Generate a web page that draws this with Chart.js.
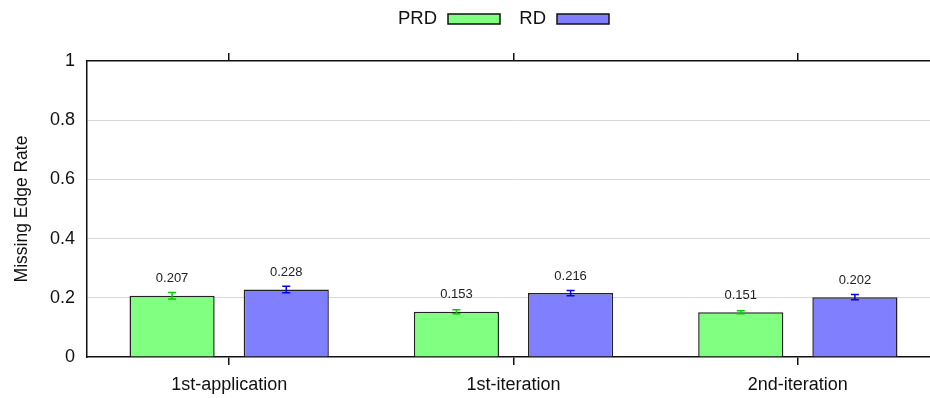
<!DOCTYPE html>
<html>
<head>
<meta charset="utf-8">
<script src="https://cdn.jsdelivr.net/npm/chart.js@4/dist/chart.umd.min.js"></script>
<style>
  html, body { margin: 0; padding: 0; background: #fff; overflow: hidden; }
  #wrap { width: 940px; height: 398px; position: relative; }
</style>
</head>
<body>
<div id="wrap"><canvas id="chart"></canvas></div>
<script>
// categories and series
const categories = ["1st-application", "1st-iteration", "2nd-iteration"];
const prd = [0.207, 0.153, 0.151];
const rd = [0.228, 0.216, 0.202];
const prdErr = [0.011, 0.007, 0.005];
const rdErr = [0.011, 0.009, 0.009];
const yTicks = [0, 0.2, 0.4, 0.6, 0.8, 1];

const FONT = "'Liberation Sans', Arial, Helvetica, sans-serif";

// error bars + value labels above each bar
const errorBars = {
    id: "errorBars",
    afterDatasetsDraw(chart) {
        const ctx = chart.ctx;
        const y = chart.scales.y;
        chart.data.datasets.forEach((ds, i) => {
            const meta = chart.getDatasetMeta(i);
            meta.data.forEach((bar, j) => {
                const v = ds.data[j];
                const e = ds.errors[j];
                const top = y.getPixelForValue(v + e);
                const bot = y.getPixelForValue(v - e);
                ctx.save();
                ctx.strokeStyle = ds.errorColor;
                ctx.lineWidth = 1.5;
                ctx.beginPath();
                ctx.moveTo(bar.x, top); ctx.lineTo(bar.x, bot);
                ctx.moveTo(bar.x - 4, top); ctx.lineTo(bar.x + 4, top);
                ctx.moveTo(bar.x - 4, bot); ctx.lineTo(bar.x + 4, bot);
                ctx.stroke();
                ctx.fillStyle = "#222";
                ctx.font = "13px " + FONT;
                ctx.textAlign = "center";
                ctx.textBaseline = "middle";
                ctx.fillText(v.toFixed(3), bar.x, y.getPixelForValue(v) - 17);
                ctx.restore();
            });
        });
    }
};

// gnuplot style key: label then sample box
const keyBox = {
    id: "keyBox",
    afterDraw(chart) {
        const ctx = chart.ctx;
        const items = [
            { text: "PRD", right: 437, box: 448, ds: chart.data.datasets[0] },
            { text: "RD", right: 546, box: 557, ds: chart.data.datasets[1] }
        ];
        ctx.save();
        ctx.font = "18.5px " + FONT;
        ctx.textBaseline = "middle";
        ctx.textAlign = "right";
        items.forEach(it => {
            ctx.fillStyle = "#111";
            ctx.fillText(it.text, it.right, 19);
            ctx.fillStyle = it.ds.backgroundColor;
            ctx.fillRect(it.box, 14, 52, 10);
            ctx.strokeStyle = "#111";
            ctx.lineWidth = 1.5;
            ctx.strokeRect(it.box, 14, 52, 10);
        });
        ctx.restore();
    }
};

new Chart(document.getElementById("chart"), {
    type: "bar",
    data: {
        labels: categories,
        datasets: [
            {
                label: "PRD",
                data: prd,
                errors: prdErr,
                errorColor: "#00cc00",
                backgroundColor: "#80ff80",
                borderColor: "#222",
                borderWidth: 1.5,
                categoryPercentage: 0.803,
                barPercentage: 0.746
            },
            {
                label: "RD",
                data: rd,
                errors: rdErr,
                errorColor: "#0000ee",
                backgroundColor: "#8080ff",
                borderColor: "#222",
                borderWidth: 1.5,
                categoryPercentage: 0.803,
                barPercentage: 0.746
            }
        ]
    },
    options: {
        responsive: true,
        maintainAspectRatio: false,
        animation: false,
        layout: { padding: 0 },
        plugins: {
            legend: { display: false },
            tooltip: { enabled: false }
        },
        scales: {
            x: {
                position: "bottom",
                offset: true,
                afterFit(s) { s.height = 41; },
                grid: { offset: false, drawOnChartArea: false, drawTicks: true, tickLength: 8, color: "#111", lineWidth: 1.5 },
                border: { display: true, color: "#111", width: 1.5 },
                ticks: { color: "#111", font: { family: FONT, size: 18 }, padding: 9, maxRotation: 0 }
            },
            x2: {
                position: "top",
                type: "category",
                labels: categories,
                offset: true,
                afterFit(s) { s.height = 61; },
                grid: { offset: false, drawOnChartArea: false, drawTicks: true, tickLength: 8, color: "#111", lineWidth: 1.5 },
                border: { display: true, color: "#111", width: 1.5 },
                ticks: { display: false }
            },
            y: {
                min: 0,
                max: 1,
                afterFit(s) { s.width = 87; },
                afterBuildTicks(s) { s.ticks = yTicks.map(v => ({ value: v })); },
                grid: {
                    color: ctx => (ctx.tick && (ctx.tick.value === 0 || ctx.tick.value === 1)) ? "rgba(0,0,0,0)" : "#d8d8d8",
                    lineWidth: 1,
                    drawTicks: false
                },
                border: { display: true, color: "#111", width: 1.5 },
                ticks: {
                    color: "#111",
                    font: { family: FONT, size: 18 },
                    padding: 12,
                    callback: v => String(Number(v.toFixed(1)))
                },
                title: {
                    display: true,
                    text: "Missing Edge Rate",
                    color: "#111",
                    font: { family: FONT, size: 17.5 },
                    padding: { top: 12, bottom: 0 }
                }
            }
        }
    },
    plugins: [errorBars, keyBox]
});
</script>
</body>
</html>
